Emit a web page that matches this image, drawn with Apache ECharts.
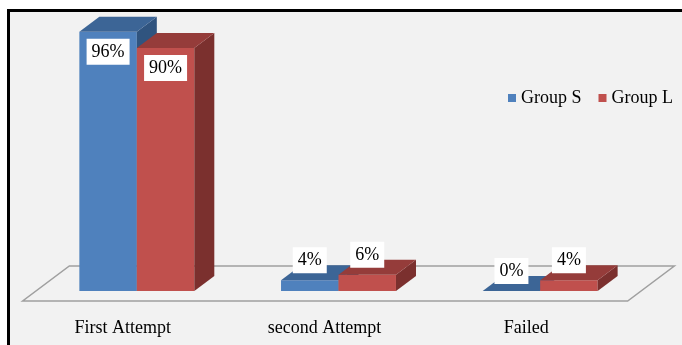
<!DOCTYPE html>
<html><head><meta charset="utf-8">
<script src="https://cdn.jsdelivr.net/npm/echarts@6/dist/echarts.min.js"></script>
<style>html,body{margin:0;padding:0;background:#fff}#c{width:682px;height:345px}</style>
</head><body><div id="c"></div>
<script>
const categories = ['First Attempt', 'second Attempt', 'Failed'];
const groupS = [96, 4, 0];
const groupL = [90, 6, 4];
const seriesNames = ['Group S', 'Group L'];

const SERIF = '"Liberation Serif", "Times New Roman", serif';
const DEPTH = 15, SLOPE = 4 / 3;

function barRender(slot, front, top, side) {
  return function (params, api) {
    const cat = api.value(0), val = api.value(1);
    const base = api.coord([cat, 0]);
    const tp = api.coord([cat, val]);
    const band = api.size([1, 0])[0];
    const w = band * 0.285;
    const x0 = base[0] + (slot - 1) * w;
    const x1 = x0 + w;
    const yb = base[1], yt = tp[1];
    const dx = DEPTH * SLOPE, dy = -DEPTH;
    const children = [
      { type: 'polygon', shape: { points: [[x0, yt], [x1, yt], [x1, yb], [x0, yb]] }, style: { fill: front } },
      { type: 'polygon', shape: { points: [[x1, yt], [x1 + dx, yt + dy], [x1 + dx, yb + dy], [x1, yb]] }, style: { fill: side } },
      { type: 'polygon', shape: { points: [[x0, yt], [x1, yt], [x1 + dx, yt + dy], [x0 + dx, yt + dy]] }, style: { fill: top } }
    ];
    const cy = val > 50 ? yt + 20 : yt - 20;
    children.push({
      type: 'text', x: (x0 + x1) / 2, y: cy,
      style: {
        text: val + '%', align: 'center', verticalAlign: 'middle',
        fontSize: 18, fontFamily: SERIF, fill: '#000',
        backgroundColor: '#fff', padding: [4, 5]
      }
    });
    return { type: 'group', children };
  };
}

function floorRender(params, api) {
  const cs = params.coordSys;
  const L = cs.x, R = cs.x + cs.width, Y = cs.y + cs.height;
  const f = -10, b = 25;
  const pts = [[L + f * SLOPE, Y - f], [R + f * SLOPE, Y - f], [R + b * SLOPE, Y - b], [L + b * SLOPE, Y - b]];
  return { type: 'polygon', shape: { points: pts }, style: { fill: 'none', stroke: '#a0a0a0', lineWidth: 1.5 } };
}

const chart = echarts.init(document.getElementById('c'));
chart.setOption({
  animation: false,
  backgroundColor: '#fff',
  graphic: [{
    type: 'rect', z: -100, silent: true,
    shape: { x: 8.5, y: 10.5, width: 700, height: 400 },
    style: { fill: '#f2f2f2', stroke: '#000', lineWidth: 3 }
  }],
  legend: {
    data: seriesNames, left: 503, top: 84, width: 190, orient: 'horizontal', icon: 'rect',
    padding: 5, itemWidth: 8, itemHeight: 8, itemGap: 17,
    textStyle: { fontSize: 18, fontFamily: SERIF, color: '#000' }
  },
  grid: { left: 36, right: 41, top: 21, bottom: 54 },
  xAxis: {
    type: 'category', data: categories,
    axisLine: { show: false }, axisTick: { show: false },
    axisLabel: { margin: 28, fontSize: 18, fontFamily: SERIF, color: '#000', padding: [0, 28, 0, 0] }
  },
  yAxis: { type: 'value', min: 0, max: 100, show: false },
  series: [
    { type: 'custom', name: 'floor', silent: true, z: 1, data: [[0, 0]], renderItem: floorRender },
    { type: 'custom', name: seriesNames[0], z: 2, itemStyle: { color: '#4F81BD' },
      data: groupS.map((v, i) => [i, v]), encode: { x: 0, y: 1 },
      renderItem: barRender(0, '#4F81BD', '#3C6596', '#30547F') },
    { type: 'custom', name: seriesNames[1], z: 3, itemStyle: { color: '#C0504D' },
      data: groupL.map((v, i) => [i, v]), encode: { x: 0, y: 1 },
      renderItem: barRender(1, '#C0504D', '#953C3A', '#7B302E') }
  ]
});
</script>
</body></html>
